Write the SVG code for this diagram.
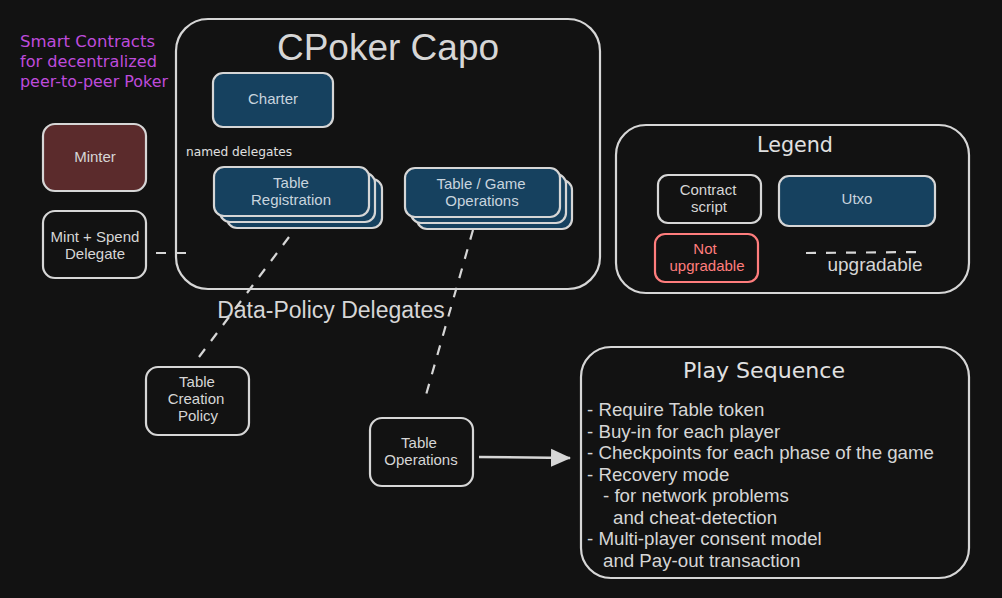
<svg xmlns="http://www.w3.org/2000/svg" width="1002" height="598" viewBox="0 0 1002 598">
<defs>
<style>
.box{fill:none;stroke:#d6d6d6;stroke-width:2.2}
.blue{fill:#16415f;stroke:#d6d6d6;stroke-width:2.2}
.t{font-family:"Liberation Sans",Arial,sans-serif;fill:#d6d6d6;text-anchor:middle}
.bt{font-family:"Liberation Sans",Arial,sans-serif;fill:#c8d4de;text-anchor:middle;font-size:15px}
.hand{font-family:"DejaVu Sans",sans-serif;fill:#e0e0e0}
.dash{fill:none;stroke:#d6d6d6;stroke-width:2.2;stroke-dasharray:10 10}
.list{font-family:"Liberation Sans",Arial,sans-serif;fill:#d6d6d6;font-size:18.7px}
</style>
<marker id="arr2" viewBox="0 0 20 20" refX="19" refY="10" markerWidth="20" markerHeight="20" markerUnits="userSpaceOnUse" orient="auto">
<path d="M0,1 L20,10 L0,19 z" fill="#d6d6d6"/>
</marker>
</defs>
<rect width="1002" height="598" fill="#121212"/>

<g id="intro">
<text class="hand" x="20" y="47" font-size="15" style="fill:#be4bdb" textLength="135" lengthAdjust="spacingAndGlyphs">Smart Contracts</text>
<text class="hand" x="20" y="67" font-size="15" style="fill:#be4bdb" textLength="137" lengthAdjust="spacingAndGlyphs">for decentralized</text>
<text class="hand" x="20" y="87" font-size="15" style="fill:#be4bdb" textLength="148" lengthAdjust="spacingAndGlyphs">peer-to-peer Poker</text>
</g>

<g id="capo">
<rect class="box" x="176" y="19" width="424" height="270" rx="32"/>
<text class="t" x="388" y="60" font-size="37">CPoker Capo</text>
<text class="hand" x="186" y="156" font-size="11.5" textLength="106" lengthAdjust="spacingAndGlyphs">named delegates</text>
</g>

<g id="charter">
<rect class="blue" x="213" y="73" width="120" height="54" rx="10"/>
<text class="bt" x="273" y="104">Charter</text>
</g>

<g id="table-registration">
<rect class="blue" x="227" y="179" width="155" height="49" rx="10"/>
<rect class="blue" x="220" y="173" width="155" height="49" rx="10"/>
<rect class="blue" x="214" y="167" width="155" height="49" rx="10"/>
<text class="bt" x="291" y="188">Table</text>
<text class="bt" x="291" y="205">Registration</text>
</g>

<g id="table-game-operations">
<rect class="blue" x="417" y="180" width="155" height="49" rx="10"/>
<rect class="blue" x="411" y="174" width="155" height="49" rx="10"/>
<rect class="blue" x="405" y="168" width="155" height="49" rx="10"/>
<text class="bt" x="481" y="189">Table / Game</text>
<text class="bt" x="482" y="206">Operations</text>
</g>

<g id="minter">
<rect x="43" y="124" width="103" height="67" rx="12" fill="#5b2b2c" stroke="#d6d6d6" stroke-width="2.2"/>
<text class="t" x="95" y="162" font-size="15">Minter</text>
</g>

<g id="mint-spend-delegate">
<rect class="box" x="43" y="211" width="103" height="67" rx="12"/>
<text class="t" x="95" y="242" font-size="15">Mint + Spend</text>
<text class="t" x="95" y="259" font-size="15">Delegate</text>
</g>

<g id="data-policy-label">
<text class="t" x="331" y="318" font-size="23">Data-Policy Delegates</text>
</g>

<g id="table-creation-policy">
<rect class="box" x="146" y="367" width="103" height="68" rx="12"/>
<text class="t" x="197" y="387" font-size="15">Table</text>
<text class="t" x="196" y="404" font-size="15">Creation</text>
<text class="t" x="198" y="421" font-size="15">Policy</text>
</g>

<g id="table-operations">
<rect class="box" x="370" y="418" width="103" height="68" rx="12"/>
<text class="t" x="419" y="448" font-size="15">Table</text>
<text class="t" x="421" y="465" font-size="15">Operations</text>
</g>

<g id="legend">
<rect class="box" x="616" y="125" width="353" height="168" rx="30"/>
<text class="hand" x="795" y="152" font-size="21" text-anchor="middle" textLength="76" lengthAdjust="spacingAndGlyphs">Legend</text>
<rect class="box" x="658" y="175" width="103" height="48" rx="10"/>
<text class="t" x="708" y="195" font-size="15">Contract</text>
<text class="t" x="709" y="212" font-size="15">script</text>
<rect class="blue" x="779" y="176" width="156" height="50" rx="10"/>
<text class="bt" x="857" y="204">Utxo</text>
<rect x="655" y="234" width="103" height="48" rx="10" fill="none" stroke="#ff7d7d" stroke-width="2.2"/>
<text class="t" x="705" y="254" font-size="15" style="fill:#ff7d7d">Not</text>
<text class="t" x="707" y="271" font-size="15" style="fill:#ff7d7d">upgradable</text>
<line class="dash" x1="806" y1="253" x2="922" y2="252"/>
<text class="t" x="875" y="271" font-size="19">upgradable</text>
</g>

<g id="play-sequence">
<rect class="box" x="581" y="347" width="388" height="231" rx="30"/>
<text class="hand" x="764" y="378" font-size="22" text-anchor="middle" textLength="162" lengthAdjust="spacingAndGlyphs">Play Sequence</text>
<text class="list" x="587" y="416">- Require Table token</text>
<text class="list" x="587" y="438">- Buy-in for each player</text>
<text class="list" x="587" y="459">- Checkpoints for each phase of the game</text>
<text class="list" x="587" y="481">- Recovery mode</text>
<text class="list" x="603" y="502">- for network problems</text>
<text class="list" x="613" y="524">and cheat-detection</text>
<text class="list" x="587" y="545">- Multi-player consent model</text>
<text class="list" x="603" y="567">and Pay-out transaction</text>
</g>

<g id="connectors">
<line class="dash" x1="156" y1="253" x2="188" y2="253"/>
<line class="dash" x1="289" y1="237" x2="193" y2="365"/>
<line class="dash" x1="473" y1="230" x2="424" y2="402"/>
<line x1="479" y1="457" x2="570" y2="458" stroke="#d6d6d6" stroke-width="2.5" marker-end="url(#arr2)"/>
</g>
</svg>
